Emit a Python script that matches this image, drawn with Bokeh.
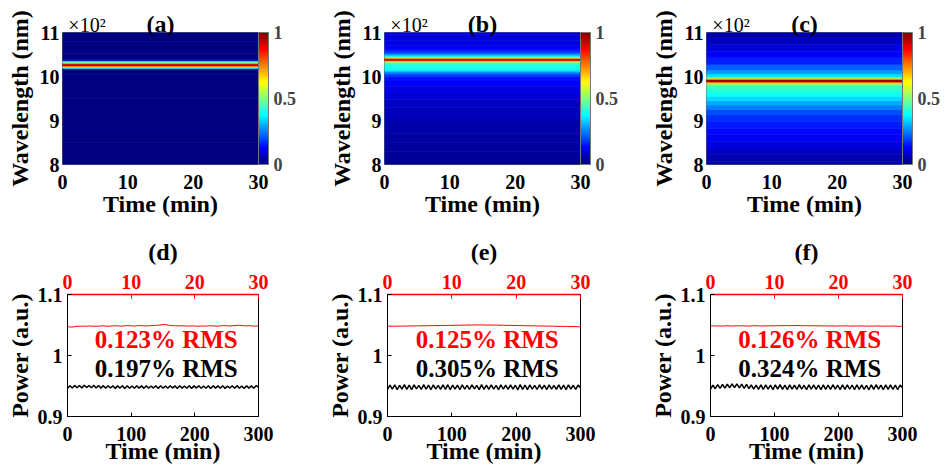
import numpy as np
from bokeh.plotting import figure
from bokeh.models import (Range1d, LinearAxis, FixedTicker, ColorBar, LinearColorMapper,
                          Label, ColumnDataSource)
from bokeh.layouts import row, column
from bokeh.embed import file_html
from bokeh.resources import INLINE
from bokeh.transform import linear_cmap

# ---------------- data ----------------
time_span = [0, 30]          # minutes, spectra measured over 30 min (constant in time)

# normalised spectra (wavelength nm -> intensity)
wl_a = [800, 900, 1000, 1010, 1015, 1017, 1019, 1021, 1023, 1025, 1027, 1029, 1031,
        1033, 1035, 1037, 1039, 1045, 1060, 1100]
int_a = [0.0, 0.0, 0.0, 0.0, 0.01, 0.08, 0.35, 0.45, 0.7, 0.9, 1.0, 0.85, 0.65,
         0.45, 0.35, 0.08, 0.01, 0.0, 0.0, 0.0]

wl_b = [800, 820, 840, 860, 880, 900, 920, 940, 955, 970, 985, 995, 1003, 1008, 1012,
        1016, 1020, 1025, 1029, 1032, 1035, 1038, 1040, 1042, 1044, 1047, 1050, 1054,
        1058, 1065, 1075, 1090, 1100]
int_b = [0.02, 0.025, 0.03, 0.035, 0.04, 0.05, 0.06, 0.07, 0.085, 0.1, 0.12, 0.14, 0.18,
         0.24, 0.32, 0.38, 0.4, 0.4, 0.42, 0.5, 0.7, 0.95, 0.92, 0.7, 0.48, 0.36, 0.28,
         0.2, 0.15, 0.12, 0.1, 0.09, 0.09]

wl_c = [800, 815, 830, 845, 860, 875, 890, 905, 920, 930, 940, 950, 960, 970, 978, 983,
        986, 989, 991, 993, 995, 998, 1003, 1010, 1020, 1035, 1050, 1065, 1080, 1100]
int_c = [0.04, 0.05, 0.07, 0.09, 0.11, 0.13, 0.15, 0.17, 0.2, 0.25, 0.29, 0.34, 0.39,
         0.42, 0.44, 0.52, 0.7, 0.95, 1.0, 0.9, 0.65, 0.42, 0.34, 0.28, 0.22, 0.16,
         0.12, 0.09, 0.06, 0.04]

# power traces: red over 30 min (top axis), black over 300 min (bottom axis)
red_d = [1.0475, 1.0465, 1.0470, 1.0480, 1.0478, 1.0482, 1.0479, 1.0484, 1.0481, 1.0478,
         1.0483, 1.0486, 1.0482, 1.0479, 1.0485, 1.0488, 1.0484, 1.0481, 1.0487, 1.0490,
         1.0486, 1.0483, 1.0488, 1.0491, 1.0487, 1.0484, 1.0489, 1.0493, 1.0495, 1.0500,
         1.0508, 1.0502, 1.0495, 1.0490, 1.0487, 1.0484, 1.0488, 1.0485, 1.0482, 1.0486,
         1.0483, 1.0480, 1.0484, 1.0481, 1.0485, 1.0488, 1.0484, 1.0481, 1.0486, 1.0490,
         1.0487, 1.0484, 1.0488, 1.0492, 1.0495, 1.0490, 1.0486, 1.0489, 1.0485, 1.0482, 1.0484]
red_e = [1.0478, 1.0481, 1.0479, 1.0483, 1.0480, 1.0484, 1.0482, 1.0486, 1.0483, 1.0487,
         1.0485, 1.0489, 1.0486, 1.0490, 1.0488, 1.0492, 1.0490, 1.0494, 1.0491, 1.0495,
         1.0493, 1.0497, 1.0495, 1.0499, 1.0496, 1.0501, 1.0498, 1.0502, 1.0499, 1.0503,
         1.0500, 1.0498, 1.0501, 1.0497, 1.0499, 1.0495, 1.0497, 1.0493, 1.0495, 1.0491,
         1.0493, 1.0489, 1.0491, 1.0487, 1.0489, 1.0485, 1.0487, 1.0483, 1.0485, 1.0481,
         1.0483, 1.0479, 1.0481, 1.0477, 1.0479, 1.0475, 1.0477, 1.0473, 1.0475, 1.0471, 1.0472]
red_f = [1.0484, 1.0487, 1.0483, 1.0486, 1.0482, 1.0488, 1.0485, 1.0483, 1.0487, 1.0484,
         1.0488, 1.0485, 1.0482, 1.0486, 1.0489, 1.0485, 1.0483, 1.0487, 1.0484, 1.0488,
         1.0486, 1.0489, 1.0487, 1.0491, 1.0488, 1.0492, 1.0489, 1.0493, 1.0490, 1.0487,
         1.0490, 1.0486, 1.0489, 1.0485, 1.0488, 1.0484, 1.0487, 1.0483, 1.0486, 1.0482,
         1.0486, 1.0483, 1.0487, 1.0484, 1.0481, 1.0485, 1.0482, 1.0486, 1.0483, 1.0480,
         1.0484, 1.0481, 1.0485, 1.0482, 1.0479, 1.0483, 1.0480, 1.0484, 1.0481, 1.0478, 1.0480]

black_d = [0.9462, 0.9505, 0.9468, 0.9510, 0.9471, 0.9508, 0.9466, 0.9512, 0.9474, 0.9509,
           0.9470, 0.9511, 0.9468, 0.9507, 0.9465, 0.9506, 0.9463, 0.9504, 0.9467, 0.9503,
           0.9461, 0.9502, 0.9466, 0.9505, 0.9460, 0.9503, 0.9464, 0.9501, 0.9462, 0.9504,
           0.9465, 0.9502, 0.9461, 0.9506, 0.9463, 0.9500, 0.9466, 0.9503, 0.9460, 0.9505,
           0.9464, 0.9501, 0.9462, 0.9504, 0.9466, 0.9502, 0.9460, 0.9503, 0.9465, 0.9500,
           0.9463, 0.9505, 0.9461, 0.9502, 0.9466, 0.9504, 0.9462, 0.9501, 0.9464, 0.9503,
           0.9460, 0.9505, 0.9465, 0.9502, 0.9463, 0.9504, 0.9461, 0.9500, 0.9466, 0.9503,
           0.9462, 0.9506, 0.9464, 0.9501, 0.9460, 0.9504, 0.9465, 0.9502, 0.9463, 0.9505, 0.9480]
black_e = [0.9445, 0.9515, 0.9450, 0.9520, 0.9442, 0.9512, 0.9448, 0.9525, 0.9444, 0.9516,
           0.9440, 0.9518, 0.9452, 0.9510, 0.9443, 0.9522, 0.9447, 0.9514, 0.9441, 0.9519,
           0.9450, 0.9511, 0.9444, 0.9517, 0.9446, 0.9521, 0.9439, 0.9513, 0.9449, 0.9516,
           0.9442, 0.9520, 0.9447, 0.9512, 0.9444, 0.9518, 0.9451, 0.9510, 0.9440, 0.9523,
           0.9446, 0.9514, 0.9443, 0.9517, 0.9449, 0.9511, 0.9441, 0.9520, 0.9447, 0.9513,
           0.9444, 0.9519, 0.9450, 0.9512, 0.9438, 0.9522, 0.9446, 0.9515, 0.9442, 0.9518,
           0.9449, 0.9510, 0.9443, 0.9521, 0.9447, 0.9513, 0.9441, 0.9517, 0.9450, 0.9511,
           0.9444, 0.9520, 0.9446, 0.9514, 0.9440, 0.9519, 0.9448, 0.9512, 0.9443, 0.9516, 0.9470]
black_f = [0.9448, 0.9515, 0.9455, 0.9522, 0.9460, 0.9528, 0.9466, 0.9532, 0.9470, 0.9535,
           0.9472, 0.9536, 0.9468, 0.9530, 0.9462, 0.9526, 0.9456, 0.9520, 0.9450, 0.9516,
           0.9446, 0.9518, 0.9444, 0.9520, 0.9449, 0.9514, 0.9442, 0.9517, 0.9448, 0.9521,
           0.9445, 0.9513, 0.9440, 0.9519, 0.9447, 0.9515, 0.9443, 0.9522, 0.9449, 0.9512,
           0.9441, 0.9518, 0.9447, 0.9520, 0.9444, 0.9514, 0.9439, 0.9519, 0.9446, 0.9516,
           0.9443, 0.9521, 0.9448, 0.9513, 0.9440, 0.9518, 0.9445, 0.9520, 0.9447, 0.9514,
           0.9442, 0.9517, 0.9446, 0.9519, 0.9443, 0.9512, 0.9438, 0.9518, 0.9444, 0.9521,
           0.9448, 0.9514, 0.9441, 0.9517, 0.9445, 0.9520, 0.9443, 0.9513, 0.9439, 0.9516, 0.9470]

rms_red = ["0.123% RMS", "0.125% RMS", "0.126% RMS"]
rms_black = ["0.197% RMS", "0.305% RMS", "0.324% RMS"]
tags_top = ["(a)", "(b)", "(c)"]
tags_bot = ["(d)", "(e)", "(f)"]
scale_text = "×10²"

wl_ticks = [800, 900, 1000, 1100]
wl_tick_labels = ["8", "9", "10", "11"]
t_ticks_short = [0, 10, 20, 30]
t_ticks_long = [0, 100, 200, 300]
p_ticks = [0.9, 1.0, 1.1]
p_tick_labels = ["0.9", "1", "1.1"]

# ---------------- style ----------------
FONT = "Liberation Serif"


def jet_palette(n=256):
    cols = []
    for i in range(n):
        v = i / (n - 1)
        r = min(max(1.5 - abs(4 * v - 3), 0), 1)
        g = min(max(1.5 - abs(4 * v - 2), 0), 1)
        b = min(max(1.5 - abs(4 * v - 1), 0), 1)
        cols.append("#%02x%02x%02x" % (round(r * 255), round(g * 255), round(b * 255)))
    return cols


JET = jet_palette()


def style_axis(ax, color="black", ls=3, als=2):
    ax.axis_label_text_font = FONT
    ax.axis_label_text_font_style = "bold"
    ax.axis_label_text_font_size = "24px"
    ax.axis_label_text_color = "black"
    ax.axis_label_standoff = als
    ax.major_label_text_font = FONT
    ax.major_label_text_font_style = "bold"
    ax.major_label_text_font_size = "20px"
    ax.major_label_text_color = color
    ax.major_label_standoff = ls
    ax.minor_tick_line_color = None


def heat_fig(wl, inten, tag, left, right, fw):
    p = figure(frame_width=fw, frame_height=132, x_range=Range1d(0, 30),
               y_range=Range1d(800, 1100), output_backend="svg", toolbar_location=None,
               min_border_left=left, min_border_right=right, min_border_top=32,
               min_border_bottom=62)
    p.grid.visible = False
    wl = np.array(wl, float)
    mids = (wl[1:] + wl[:-1]) / 2
    bottom = np.concatenate([[wl[0]], mids])
    top = np.concatenate([mids, [wl[-1]]])
    src = ColumnDataSource(dict(left=[time_span[0]] * len(wl), right=[time_span[1]] * len(wl),
                                bottom=bottom, top=top, v=inten))
    cm = linear_cmap("v", JET, 0, 1)
    p.quad(left="left", right="right", bottom="bottom", top="top", source=src,
           fill_color=cm, line_color=cm, line_width=0.6)
    bx, ly = p.below[0], p.left[0]
    style_axis(bx, ls=10, als=-1)
    style_axis(ly, ls=3, als=4)
    for ax in (bx, ly):
        ax.axis_line_color = None
        ax.major_tick_in = 0
        ax.major_tick_out = 0
    bx.ticker = FixedTicker(ticks=t_ticks_short)
    ly.ticker = FixedTicker(ticks=wl_ticks)
    ly.major_label_overrides = dict(zip(wl_ticks, wl_tick_labels))
    bx.axis_label = "Time (min)"
    ly.axis_label = "Wavelength (nm)"
    p.outline_line_color = "#666666"

    # scale factor and panel tag above the map
    xs = 3.75
    top_ax = LinearAxis(ticker=FixedTicker(ticks=[xs]), major_label_overrides={xs: scale_text})
    style_axis(top_ax, ls=-9, als=-26)
    top_ax.major_label_text_font_style = "normal"
    top_ax.axis_line_color = None
    top_ax.major_tick_line_color = None
    top_ax.axis_label = tag
    p.add_layout(top_ax, "above")

    cmapper = LinearColorMapper(palette=JET, low=0, high=1)
    cb = ColorBar(color_mapper=cmapper, width=10, padding=0, margin=0,
                  ticker=FixedTicker(ticks=[0, 0.5, 1]),
                  major_label_overrides={0: "0", 0.5: "0.5", 1: "1"},
                  major_label_text_font=FONT, major_label_text_font_style="bold",
                  major_label_text_font_size="18px", major_tick_line_color=None,
                  bar_line_color="#777777", label_standoff=5,
                  background_fill_alpha=0, border_line_color=None)
    p.add_layout(cb, "right")
    return p


def pow_fig(red, black, t_red, t_black, tag, left, right, fw):
    p = figure(frame_width=fw, frame_height=122, x_range=Range1d(0, 300),
               y_range=Range1d(0.9, 1.1), output_backend="svg", toolbar_location=None,
               min_border_left=left, min_border_right=right, min_border_top=68,
               min_border_bottom=50)
    p.grid.visible = False
    p.extra_x_ranges = {"top": Range1d(0, 30)}
    bx, ly = p.below[0], p.left[0]
    top_ax = LinearAxis(x_range_name="top", ticker=FixedTicker(ticks=t_ticks_short))
    p.add_layout(top_ax, "above")
    style_axis(top_ax, "red", ls=6, als=7)
    top_ax.axis_label = tag
    top_ax.axis_line_color = "red"
    top_ax.axis_line_width = 1.5
    top_ax.major_tick_line_color = "red"
    top_ax.major_tick_in = 4
    top_ax.major_tick_out = 0
    style_axis(bx, ls=10, als=-6)
    style_axis(ly, ls=5, als=2)
    for ax in (bx, ly):
        ax.major_tick_in = 4
        ax.major_tick_out = 0
    bx.ticker = FixedTicker(ticks=t_ticks_long)
    ly.ticker = FixedTicker(ticks=p_ticks)
    ly.major_label_overrides = dict(zip(p_ticks, p_tick_labels))
    bx.axis_label = "Time (min)"
    ly.axis_label = "Power (a.u.)"
    p.outline_line_color = "black"

    xb = np.linspace(0, 300, len(black))
    xr = np.linspace(0, 30, len(red))
    p.line(xb, black, line_color="black", line_width=1.5)
    p.line(xr, red, line_color="red", line_width=1.0, x_range_name="top")

    p.add_layout(Label(x=155, y=1.026, text=t_red, text_align="center", text_baseline="middle",
                       text_font=FONT, text_font_style="bold", text_font_size="25px",
                       text_color="red"))
    p.add_layout(Label(x=155, y=0.979, text=t_black, text_align="center", text_baseline="middle",
                       text_font=FONT, text_font_style="bold", text_font_size="25px",
                       text_color="black"))
    return p


pa = heat_fig(wl_a, int_a, tags_top[0], 62, 61, 196)
pb = heat_fig(wl_b, int_b, tags_top[1], 65, 62, 196)
pc = heat_fig(wl_c, int_c, tags_top[2], 64, 30, 196)

pd = pow_fig(red_d, black_d, rms_red[0], rms_black[0], tags_bot[0], 67, 61, 191)
pe = pow_fig(red_e, black_e, rms_red[1], rms_black[1], tags_bot[1], 68, 62, 193)
pf = pow_fig(red_f, black_f, rms_red[2], rms_black[2], tags_bot[2], 68, 20, 192)

layout = column(row(pa, pb, pc), row(pd, pe, pf))

open("out.html", "w").write(file_html(layout, INLINE))
